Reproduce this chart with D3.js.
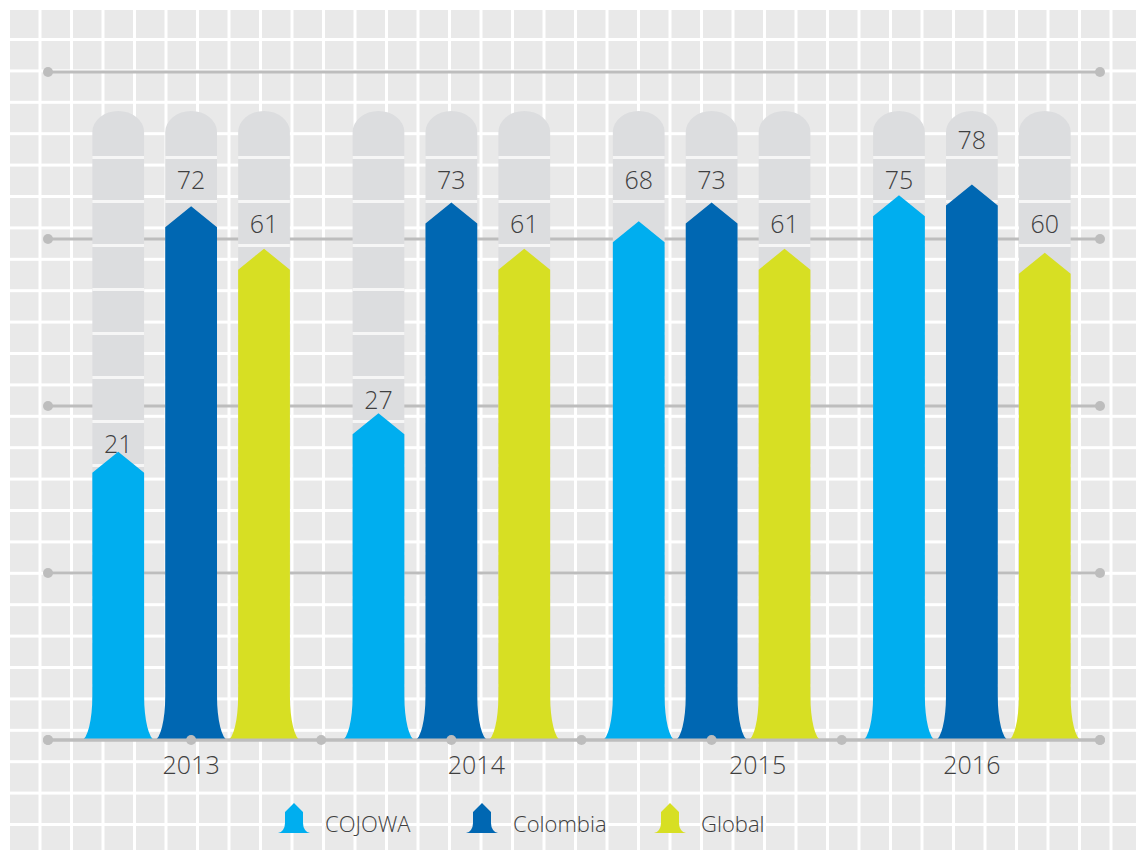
<!DOCTYPE html>
<html>
<head>
<meta charset="utf-8">
<script src="https://cdn.jsdelivr.net/npm/d3@7"></script>
<style>
body { margin: 0; background: #fff; }
text { font-family: "Open Sans", sans-serif; font-weight: 300; fill: #3f3f3f; }
</style>
</head>
<body>
<div id="chart"></div>
<script>
// size of the page
var width = 1136;
var height = 850;

// data
var years = ["2013", "2014", "2015", "2016"];
var seriesNames = ["COJOWA", "Colombia", "Global"];
var cojowa = [21, 27, 68, 75];
var colombia = [72, 73, 73, 78];
var global = [61, 61, 61, 60];
var colors = ["#00aeef", "#0067b2", "#d7df23"];

var values = [cojowa, colombia, global];
var rows = years.map(function(yr, i) {
  return seriesNames.map(function(s, j) {
    return {year: yr, name: s, value: values[j][i], color: colors[j]};
  });
});

var base = 740;
var x0 = d3.scaleBand().domain(years).range([61, 1102]);
var x1 = d3.scaleBand().domain(seriesNames).range([0, x0.bandwidth()]).paddingInner(0.29).paddingOuter(0.43);
var y = d3.scaleSqrt().domain([0, 100]).range([base, 111]);
var guide = d3.scaleLinear().domain([0, 4]).range([base, 72]);

// pill segments (gray track behind each bar)
var gapTop = 156, gapStep = 44, gapH = 3;
var arrowH = 21;
// small shifts of the year labels, as in the original
var yearNudge = [0, 25, 46, 0];

var svg = d3.select("#chart").append("svg")
  .attr("width", width)
  .attr("height", height);

// tiled background
svg.append("rect").attr("x", 10).attr("y", 10)
  .attr("width", width - 10).attr("height", height - 10)
  .attr("fill", "#e9e9e9");
svg.selectAll(".vgrid").data(d3.range(40, width, 31.5)).enter().append("rect")
  .attr("x", function(d) { return d - 1.5; }).attr("y", 10)
  .attr("width", 3).attr("height", height - 10).attr("fill", "#fff");
svg.selectAll(".hgrid").data(d3.range(39.5, height, 31.4)).enter().append("rect")
  .attr("x", 10).attr("y", function(d) { return d - 1.5; })
  .attr("width", width - 10).attr("height", 3).attr("fill", "#fff");

// guide lines with end dots
var guideVals = d3.range(0, 5);
svg.selectAll(".guide").data(guideVals).enter().append("line")
  .attr("x1", 48).attr("x2", 1100)
  .attr("y1", function(d) { return guide(d); }).attr("y2", function(d) { return guide(d); })
  .attr("stroke", "#bdbdbd").attr("stroke-width", 3);
guideVals.forEach(function(d) {
  [48, 1100].forEach(function(xx) {
    svg.append("circle").attr("cx", xx).attr("cy", guide(d)).attr("r", 5).attr("fill", "#bdbdbd");
  });
});

function pillPath(cx, w, top, bottom) {
  var r = w / 2, ry = 21;
  return "M" + (cx - r) + "," + bottom + "L" + (cx - r) + "," + (top + ry) +
    "A" + r + "," + ry + " 0 0 1 " + (cx + r) + "," + (top + ry) +
    "L" + (cx + r) + "," + bottom + "Z";
}

function barPath(cx, w, bottom, tip, ah, fw, fh) {
  var l = cx - w / 2, r = cx + w / 2, sh = tip + ah;
  return "M" + (l - fw) + "," + bottom + "L" + (r + fw) + "," + bottom +
    "A" + fw + "," + fh + " 0 0 1 " + r + "," + (bottom - fh) +
    "L" + r + "," + sh + "L" + cx + "," + tip + "L" + l + "," + sh +
    "L" + l + "," + (bottom - fh) +
    "A" + fw + "," + fh + " 0 0 1 " + (l - fw) + "," + bottom + "Z";
}

function segCenter(j) {
  return gapTop + gapH + gapStep * j + (gapStep - gapH) / 2;
}

// label goes in the track segment just above the arrow
function labelY(v) {
  var tip = y(v);
  var k = Math.floor((tip + arrowH - gapTop - gapH) / gapStep);
  var j = k - 1;
  while (j >= 0 && segCenter(j) + 9 > tip + 1) j--;
  return (j < 0 ? 140 : segCenter(j)) + 9;
}

var groups = svg.selectAll(".year").data(rows).enter().append("g")
  .attr("transform", function(d, i) { return "translate(" + x0(years[i]) + ",0)"; });

var bw = x1.bandwidth();

groups.selectAll(".pill").data(function(d) { return d; }).enter().append("path")
  .attr("d", function(d) { return pillPath(x1(d.name) + bw / 2, bw, y(100), base); })
  .attr("fill", "#dcdddf");

groups.selectAll(".gap").data(function(d) {
  var out = [];
  d.forEach(function(b) {
    d3.range(gapTop, base, gapStep).forEach(function(g) { out.push({name: b.name, y: g}); });
  });
  return out;
}).enter().append("rect")
  .attr("x", function(d) { return x1(d.name); })
  .attr("y", function(d) { return d.y; })
  .attr("width", bw).attr("height", gapH)
  .attr("fill", "#f6f6f6");

groups.selectAll(".bar").data(function(d) { return d; }).enter().append("path")
  .attr("d", function(d) { return barPath(x1(d.name) + bw / 2, bw, base, y(d.value), arrowH, 11, 44); })
  .attr("fill", function(d) { return d.color; });

groups.selectAll(".val").data(function(d) { return d; }).enter().append("text")
  .attr("x", function(d) { return x1(d.name) + bw / 2; })
  .attr("y", function(d) { return labelY(d.value); })
  .attr("text-anchor", "middle")
  .style("font-size", "25px")
  .text(function(d) { return d.value; });

// baseline over the bars
svg.append("line").attr("x1", 48).attr("x2", 1100)
  .attr("y1", base).attr("y2", base)
  .attr("stroke", "#bdbdbd").attr("stroke-width", 3);
var baseDots = [48, 1100]
  .concat(years.slice(0, 3).map(function(yr) { return x0(yr) + x0.bandwidth() / 2; }))
  .concat(years.slice(1).map(function(yr) { return x0(yr); }));
svg.selectAll(".bdot").data(baseDots).enter().append("circle")
  .attr("cx", function(d) { return d; }).attr("cy", base).attr("r", 5)
  .attr("fill", "#bdbdbd");

// year labels
svg.selectAll(".yl").data(years).enter().append("text")
  .attr("x", function(d, i) { return x0(d) + x0.bandwidth() / 2 + yearNudge[i]; })
  .attr("y", 774)
  .attr("text-anchor", "middle")
  .style("font-size", "25px")
  .text(function(d) { return d; });

// legend
var legend = svg.selectAll(".leg").data(seriesNames).enter().append("g")
  .attr("transform", function(d, i) { return "translate(" + (278 + 188 * i) + ",0)"; });
legend.append("path")
  .attr("d", barPath(16, 18, 833, 803, 9, 7, 10))
  .attr("fill", function(d, i) { return colors[i]; });
legend.append("text")
  .attr("x", 47).attr("y", 832)
  .style("font-size", "22px")
  .text(function(d) { return d; });
</script>
</body>
</html>
